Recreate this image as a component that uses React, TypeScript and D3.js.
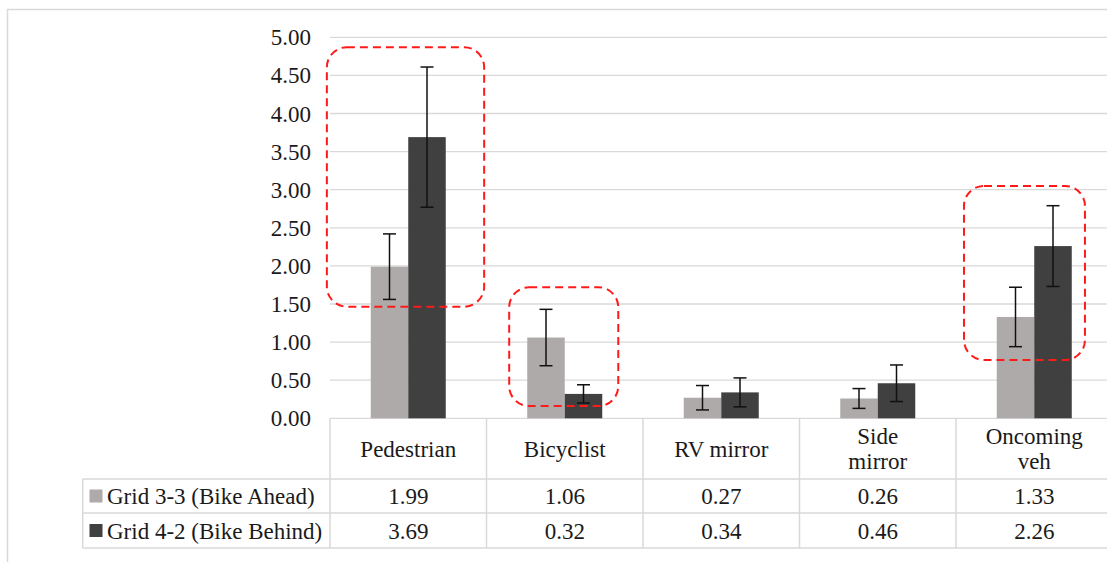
import React from "react";
import * as d3 from "d3";

// categories (label lines for the data-table header)
const CATEGORIES = ["Pedestrian", "Bicyclist", "RV mirror", "Side mirror", "Oncoming veh"];
const CATEGORY_LINES = [["Pedestrian"], ["Bicyclist"], ["RV mirror"], ["Side", "mirror"], ["Oncoming", "veh"]];

const SERIES = ["Grid 3-3 (Bike Ahead)", "Grid 4-2 (Bike Behind)"];
const AHEAD = [1.99, 1.06, 0.27, 0.26, 1.33];
const BEHIND = [3.69, 0.32, 0.34, 0.46, 2.26];
// error bar half-widths
const AHEAD_ERR = [0.43, 0.37, 0.16, 0.13, 0.39];
const BEHIND_ERR = [0.92, 0.12, 0.19, 0.24, 0.53];

const Y_TICKS = [0, 0.5, 1, 1.5, 2, 2.5, 3, 3.5, 4, 4.5, 5];

// red dashed highlight boxes: category, value range, horizontal extent as band fraction
const HIGHLIGHTS = [
  { cat: "Pedestrian", hi: 4.87, lo: 1.465, from: -0.02, to: 0.985 },
  { cat: "Bicyclist", hi: 1.72, lo: 0.16, from: 0.145, to: 0.842 },
  { cat: "Oncoming veh", hi: 3.05, lo: 0.765, from: 0.051, to: 0.824 },
];

const COLORS = ["#aeaaaa", "#404040"];
const GRID = "#d9d9d9";
const TEXT_STYLE = { fontFamily: "'Liberation Serif'", fontSize: "23px" };

const W = 1107;
const H = 562;
const PLOT = { left: 330, right: 1112.5, top: 37.3, bottom: 418.3 };
const TABLE = { left: 82.7, rows: [479, 513, 548] };

export default function App() {
  const x = d3.scaleBand<string>().domain(CATEGORIES).range([PLOT.left, PLOT.right]);
  const bw = x.bandwidth();
  const barW = 37.5;
  const x1 = d3
    .scaleBand<string>()
    .domain(SERIES)
    .range([bw / 2 - barW, bw / 2 + barW]);
  const y = d3.scaleLinear().domain([0, 5]).range([PLOT.bottom, PLOT.top]);
  const fmt = d3.format(".2f");

  const values = [AHEAD, BEHIND];
  const errs = [AHEAD_ERR, BEHIND_ERR];
  const edges = [...CATEGORIES.map((c) => x(c) ?? 0), PLOT.right];
  const headerMid = (PLOT.bottom + TABLE.rows[0]) / 2;

  return (
    <svg width={W} height={H} style={{ position: "absolute", left: 0, top: 0, background: "#fff" }}>
      {/* outer chart border */}
      <rect x={7.5} y={9.5} width={W + 20} height={H + 20} fill="none" stroke={GRID} strokeWidth={1.5} />

      {/* gridlines */}
      {Y_TICKS.map((t) => (
        <line key={t} x1={PLOT.left} x2={W} y1={y(t)} y2={y(t)} stroke={GRID} strokeWidth={1.3} />
      ))}

      {/* y tick labels */}
      {Y_TICKS.map((t) => (
        <text key={t} x={311} y={y(t)} dy="0.35em" textAnchor="end" fill="#1a1a1a" style={TEXT_STYLE}>
          {fmt(t)}
        </text>
      ))}

      {/* bars + error bars */}
      {SERIES.map((s, si) => (
        <g key={s}>
          {CATEGORIES.map((c, i) => {
            const bx = (x(c) ?? 0) + (x1(s) ?? 0);
            const cx = bx + x1.bandwidth() / 2;
            const v = values[si][i];
            const top = y(v + errs[si][i]);
            const bot = y(Math.max(0, v - errs[si][i]));
            return (
              <g key={c}>
                <rect x={bx} width={x1.bandwidth()} y={y(v)} height={y(0) - y(v)} fill={COLORS[si]} />
                <g stroke="#111" strokeWidth={1.5}>
                  <line x1={cx} x2={cx} y1={top} y2={bot} />
                  <line x1={cx - 6.5} x2={cx + 6.5} y1={top} y2={top} />
                  <line x1={cx - 6.5} x2={cx + 6.5} y1={bot} y2={bot} />
                </g>
              </g>
            );
          })}
        </g>
      ))}

      {/* data table lines */}
      <g stroke={GRID} strokeWidth={1.5}>
        {edges.map((ex, i) => (
          <line key={i} x1={ex} x2={ex} y1={PLOT.bottom} y2={TABLE.rows[2]} />
        ))}
        {TABLE.rows.map((ry) => (
          <line key={ry} x1={TABLE.left} x2={W} y1={ry} y2={ry} />
        ))}
        <line x1={TABLE.left} x2={TABLE.left} y1={TABLE.rows[0]} y2={TABLE.rows[2]} />
      </g>

      {/* header labels */}
      {CATEGORIES.map((c, i) => {
        const lines = CATEGORY_LINES[i];
        const cx = (x(c) ?? 0) + bw / 2;
        return lines.map((ln, li) => (
          <text
            key={c + li}
            x={cx}
            y={headerMid + (li - (lines.length - 1) / 2) * 25}
            dy="0.35em"
            textAnchor="middle"
            fill="#1a1a1a"
            style={TEXT_STYLE}
          >
            {ln}
          </text>
        ));
      })}

      {/* table rows: legend key + values */}
      {SERIES.map((s, si) => {
        const rowMid = (TABLE.rows[si] + TABLE.rows[si + 1]) / 2;
        return (
          <g key={s}>
            <rect x={89.5} y={rowMid - 6.5} width={13} height={13} fill={COLORS[si]} />
            <text x={107} y={rowMid} dy="0.35em" fill="#1a1a1a" style={TEXT_STYLE}>
              {s}
            </text>
            {values[si].map((v, i) => (
              <text
                key={i}
                x={(x(CATEGORIES[i]) ?? 0) + bw / 2}
                y={rowMid}
                dy="0.35em"
                textAnchor="middle"
                fill="#1a1a1a"
                style={TEXT_STYLE}
              >
                {fmt(v)}
              </text>
            ))}
          </g>
        );
      })}

      {/* red dashed highlight boxes */}
      {HIGHLIGHTS.map((d) => (
        <rect
          key={d.cat}
          x={(x(d.cat) ?? 0) + d.from * bw}
          width={(d.to - d.from) * bw}
          y={y(d.hi)}
          height={y(d.lo) - y(d.hi)}
          rx={20}
          fill="none"
          stroke="#ff1a1a"
          strokeWidth={2}
          strokeDasharray="8,5"
        />
      ))}
    </svg>
  );
}
